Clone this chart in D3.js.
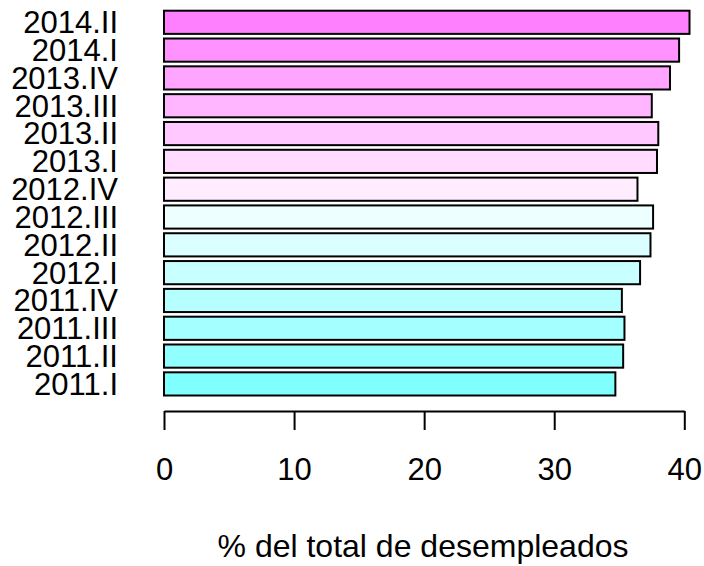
<!DOCTYPE html>
<html>
<head>
<meta charset="utf-8">
<script src="https://cdn.jsdelivr.net/npm/d3@7"></script>
<style>
  body { margin: 0; background: #fff; }
  text { font-family: "Liberation Sans", Arial, sans-serif; }
</style>
</head>
<body>
<div id="chart"></div>
<script>
// quarters, bottom to top
var quarters = ["2011.I", "2011.II", "2011.III", "2011.IV",
                "2012.I", "2012.II", "2012.III", "2012.IV",
                "2013.I", "2013.II", "2013.III", "2013.IV",
                "2014.I", "2014.II"];
var values = [34.7, 35.3, 35.4, 35.2,
              36.6, 37.4, 37.6, 36.4,
              37.9, 38.0, 37.5, 38.9,
              39.6, 40.4];
var xTicks = [0, 10, 20, 30, 40];
var xTitle = "% del total de desempleados";

// cm.colors(14) style palette, cyan -> white -> magenta
var palette = ["#80FFFF", "#92FFFF", "#A4FFFF", "#B6FFFF", "#C8FFFF", "#DBFFFF", "#EDFFFF",
               "#FFEDFF", "#FFDBFF", "#FFC8FF", "#FFB6FF", "#FFA4FF", "#FF92FF", "#FF80FF"];

var width = 704, height = 566;
var fontSize = 31;

var svg = d3.select("#chart")
  .append("svg")
  .attr("width", width)
  .attr("height", height);

svg.append("rect").attr("width", width).attr("height", height).attr("fill", "#fff");

var x = d3.scaleLinear().domain([0, 40]).range([164, 684.3]);

var y = d3.scaleBand()
  .domain(quarters.slice().reverse())
  .range([10.7, 395.5])
  .paddingInner(1 / 6)
  .paddingOuter(0);

var data = quarters.map(function(q, i) {
  return { q: q, v: values[i], c: palette[i] };
});

svg.selectAll(".bar")
  .data(data)
  .enter().append("rect")
  .attr("class", "bar")
  .attr("x", x(0))
  .attr("y", function(d) { return y(d.q); })
  .attr("width", function(d) { return x(d.v) - x(0); })
  .attr("height", y.bandwidth())
  .attr("fill", function(d) { return d.c; })
  .attr("stroke", "#000")
  .attr("stroke-width", 2);

// category labels
var yAxis = svg.append("g")
  .attr("transform", "translate(" + x(0) + ",0)")
  .call(d3.axisLeft(y).tickSize(0).tickPadding(46));
yAxis.select(".domain").remove();
yAxis.selectAll("text")
  .attr("dy", "0.35em")
  .style("font-size", fontSize + "px")
  .attr("fill", "#000");

// bottom axis
var xAxis = svg.append("g")
  .attr("transform", "translate(0,411)")
  .call(d3.axisBottom(x).tickValues(xTicks).tickSize(19).tickSizeOuter(0).tickPadding(28));
xAxis.select(".domain").attr("stroke-width", 2).attr("stroke", "#000");
xAxis.selectAll(".tick line").attr("stroke-width", 2).attr("stroke", "#000");
xAxis.selectAll("text")
  .style("font-size", fontSize + "px")
  .attr("fill", "#000");

svg.append("text")
  .attr("x", 423)
  .attr("y", 557)
  .attr("text-anchor", "middle")
  .style("font-size", "32px")
  .text(xTitle);
</script>
</body>
</html>
